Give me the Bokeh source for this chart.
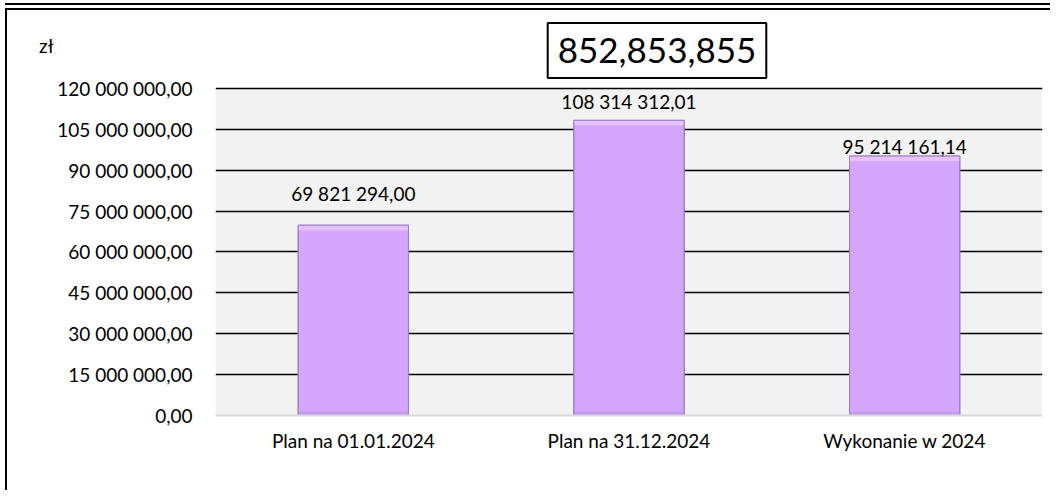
from bokeh.plotting import figure
from bokeh.models import (Range1d, FactorRange, FixedTicker, ColumnDataSource, Label,
                          LinearAxis, BoxAnnotation)
from bokeh.core.properties import value
from bokeh.embed import file_html
from bokeh.resources import INLINE

# ---- data ----
categories = ["Plan na 01.01.2024", "Plan na 31.12.2024", "Wykonanie w 2024"]
amounts = [69821294.00, 108314312.01, 95214161.14]
amount_labels = ["69 821 294,00", "108 314 312,01", "95 214 161,14"]
y_ticks = [0, 15000000, 30000000, 45000000, 60000000, 75000000, 90000000, 105000000, 120000000]
y_tick_labels = ["0,00", "15 000 000,00", "30 000 000,00", "45 000 000,00", "60 000 000,00",
                 "75 000 000,00", "90 000 000,00", "105 000 000,00", "120 000 000,00"]
axis_max = 120000000
title_text = "852,853,855"
unit_text = "zł"

# ---- styling / layout (not data) ----
label_offsets = [-32, -19, -10]
FONT = "Lato"
bevel = 1800000
view_top = 146420000      # frame extends above the plot area to hold the unit and the title box
unit_pos = 135800000      # vertical position of the unit label

src = ColumnDataSource(dict(cat=categories, amt=amounts, lab=amount_labels,
                            off=label_offsets,
                            tlb=[a - bevel for a in amounts],
                            zero=[0] * len(amounts), bb=[bevel * 0.8] * len(amounts)))

p = figure(x_range=FactorRange(*categories), y_range=Range1d(0, view_top),
           width=1045, height=482, output_backend="svg", toolbar_location=None, title=None,
           min_border_left=208, min_border_right=10, min_border_top=6, min_border_bottom=77,
           background_fill_color="white", border_fill_color="white",
           styles={"border-left": "2px solid black", "border-top": "2px solid black",
                   "margin-left": "5px", "margin-top": "8px",
                   "box-shadow": "0 -3px 0 0 white, 0 -5px 0 0 black"})
p.outline_line_color = None

# plot-area background (0 .. axis max)
p.add_layout(BoxAnnotation(bottom=0, top=axis_max, fill_color="#F2F2F2", fill_alpha=1,
                           line_color=None, level="image"))

# bars
p.vbar(x="cat", top="amt", bottom=0, width=0.4, source=src,
       fill_color="#D5A6FE", line_color="#9E7BC9", line_width=1)
p.vbar(x="cat", top="amt", bottom="tlb", width=0.4, source=src,
       fill_color="#E6C3FF", line_color=None)
p.vbar(x="cat", top="bb", bottom="zero", width=0.4, source=src,
       fill_color="#C59BEF", line_color=None)
p.vbar(x="cat", top="amt", bottom=0, width=0.4, source=src,
       fill_color=None, line_color="#9E7BC9", line_width=1)

# value labels
p.text(x="cat", y="amt", text="lab", source=src, y_offset="off",
       text_align="center", text_baseline="middle",
       text_font=value(FONT), text_font_size="19px", text_color="black")

# main y axis
ya = p.yaxis[0]
ya.ticker = FixedTicker(ticks=y_ticks)
ya.major_label_overrides = {t: l for t, l in zip(y_ticks, y_tick_labels)}
ya.axis_line_color = None
ya.major_tick_line_color = None
ya.minor_tick_line_color = None
ya.major_label_standoff = 17
ya.major_label_text_font = FONT
ya.major_label_text_font_size = "19px"
ya.major_label_text_color = "black"

# unit axis (outer left) carrying "zł"
ua = LinearAxis(ticker=FixedTicker(ticks=[unit_pos]),
                major_label_overrides={unit_pos: unit_text})
ua.axis_line_color = None
ua.major_tick_line_color = None
ua.minor_tick_line_color = None
ua.major_tick_out = 0
ua.minor_tick_out = 0
ua.major_label_standoff = 1
ua.major_label_text_font = FONT
ua.major_label_text_font_size = "19px"
ua.major_label_text_color = "black"
p.add_layout(ua, "left")

# x axis
p.xaxis.axis_line_color = "#D9D9D9"
p.xaxis.axis_line_width = 2
p.xaxis.major_tick_line_color = None
p.xaxis.minor_tick_line_color = None
p.xaxis.major_label_standoff = 7
p.xaxis.major_label_text_font = FONT
p.xaxis.major_label_text_font_size = "19px"
p.xaxis.major_label_text_color = "black"

# grids
p.xgrid.grid_line_color = None
p.ygrid.ticker = FixedTicker(ticks=y_ticks[1:])
p.ygrid.grid_line_color = "black"
p.ygrid.grid_line_width = 1.3

# title box
p.add_layout(Label(x=441.5, y=365, x_units="screen", y_units="screen", text=title_text,
                   text_align="center", text_baseline="middle",
                   text_font=FONT, text_font_size="35px", text_color="black",
                   background_fill_color="white", border_line_color="black",
                   border_line_width=2, padding=(10, 15)))

open("out.html", "w").write(file_html(p, INLINE))
